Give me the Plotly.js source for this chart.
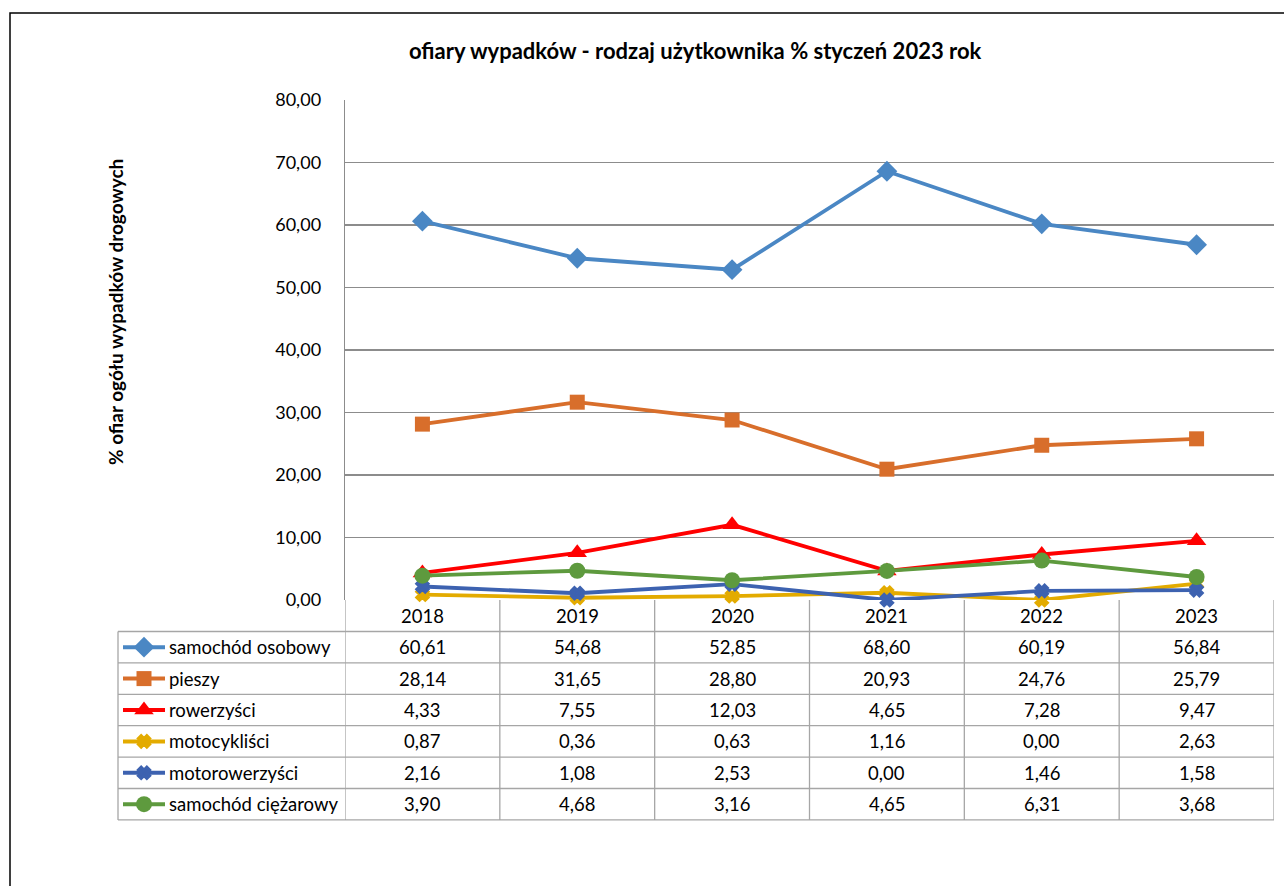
<!DOCTYPE html>
<html>
<head>
<meta charset="utf-8">
<script src="https://cdn.plot.ly/plotly-3.0.1.min.js"></script>
<style>
  html, body { margin: 0; padding: 0; background: #fff; }
  #chart { width: 1284px; height: 886px; }
</style>
</head>
<body>
<div id="chart"></div>
<script>
// ---------- data ----------
const years = ['2018', '2019', '2020', '2021', '2022', '2023'];
const seriesNames = ['samochód osobowy', 'pieszy', 'rowerzyści', 'motocykliści', 'motorowerzyści', 'samochód ciężarowy'];
const samochodOsobowy = [60.61, 54.68, 52.85, 68.60, 60.19, 56.84];
const pieszy = [28.14, 31.65, 28.80, 20.93, 24.76, 25.79];
const rowerzysci = [4.33, 7.55, 12.03, 4.65, 7.28, 9.47];
const motocyklisci = [0.87, 0.36, 0.63, 1.16, 0.00, 2.63];
const motorowerzysci = [2.16, 1.08, 2.53, 0.00, 1.46, 1.58];
const samochodCiezarowy = [3.90, 4.68, 3.16, 4.65, 6.31, 3.68];
const chartTitle = 'ofiary wypadków - rodzaj użytkownika % styczeń 2023 rok';
const yTitle = '% ofiar ogółu wypadków drogowych';

// ---------- styles ----------
const seriesValues = [samochodOsobowy, pieszy, rowerzysci, motocyklisci, motorowerzysci, samochodCiezarowy];
const colors = ['#4a87c4', '#d86e2b', '#ff0000', '#e3ab00', '#3d62b0', '#5e9a3e'];
const symbols = ['diamond', 'square', 'triangle-up', 'x', 'x', 'circle'];
const msizes = [16, 15, 17, 10, 10, 16];
const mlines = [0, 0, 0, 3, 3, 0];

const W = 1284, H = 886;
const plotLeft = 345, plotRight = 1274, plotTop = 100, plotBottom = 600;
const tableLeft = 118;
const headerBottom = 631.5;
const rowH = 31.4;
const font = 'Lato, "Open Sans", sans-serif';
const gridColor = '#8c8c8c';
const tableColor = '#a6a6a6';

const xIdx = years.map((_, i) => i);
const traces = [];
seriesValues.forEach((vals, k) => {
  traces.push({
    type: 'scatter', mode: 'lines+markers',
    x: xIdx, y: vals, name: seriesNames[k],
    xaxis: 'x', yaxis: 'y',
    line: { color: colors[k], width: 3.8 },
    marker: { symbol: symbols[k], size: msizes[k], color: colors[k],
      line: { color: colors[k], width: mlines[k] } },
    cliponaxis: false, showlegend: false
  });
});

// legend keys in table (pixel overlay axes)
const shapes = [];
const annotations = [];
const txtFont = { family: font, size: 18.5, color: '#000' };
seriesNames.forEach((nm, k) => {
  const yc = headerBottom + rowH * (k + 0.5);
  traces.push({
    type: 'scatter', mode: 'lines',
    x: [123, 165], y: [yc, yc],
    xaxis: 'x2', yaxis: 'y2',
    line: { color: colors[k], width: 4 },
    showlegend: false
  });
  traces.push({
    type: 'scatter', mode: 'markers',
    x: [144], y: [yc],
    xaxis: 'x2', yaxis: 'y2',
    marker: { symbol: symbols[k], size: msizes[k], color: colors[k],
      line: { color: colors[k], width: mlines[k] } },
    showlegend: false
  });
  annotations.push({
    xref: 'x2', yref: 'y2', x: 167, y: yc, text: nm, showarrow: false,
    xanchor: 'left', yanchor: 'middle', font: txtFont
  });
  seriesValues[k].forEach((v, i) => {
    annotations.push({
      xref: 'x', yref: 'y2', x: i, y: yc, text: v.toFixed(2).replace('.', ','), showarrow: false,
      xanchor: 'center', yanchor: 'middle', font: txtFont
    });
  });
});
years.forEach((yr, i) => {
  annotations.push({
    xref: 'x', yref: 'y2', x: i, y: (plotBottom + headerBottom) / 2, text: yr, showarrow: false,
    xanchor: 'center', yanchor: 'middle', font: txtFont
  });
});

// table lines
const tableBottom = headerBottom + rowH * seriesNames.length;
for (let r = 0; r <= seriesNames.length; r++) {
  const yy = headerBottom + rowH * r;
  shapes.push({ type: 'line', xref: 'x2', yref: 'y2', x0: tableLeft, x1: plotRight, y0: yy, y1: yy,
    line: { color: tableColor, width: 1.3 } });
}
shapes.push({ type: 'line', xref: 'x2', yref: 'y2', x0: tableLeft, x1: tableLeft, y0: headerBottom, y1: tableBottom,
  line: { color: tableColor, width: 1.3 } });
for (let i = 0; i <= years.length; i++) {
  shapes.push({ type: 'line', xref: 'x', yref: 'y2', x0: i - 0.5, x1: i - 0.5, y0: plotBottom, y1: tableBottom,
    line: { color: tableColor, width: 1.3 } });
}
// outer chart border
shapes.push({ type: 'rect', xref: 'x2', yref: 'y2', x0: 10, x1: 1300, y0: 13, y1: 900,
  line: { color: '#000', width: 1.5 }, fillcolor: 'rgba(0,0,0,0)' });

annotations.push({
  xref: 'x2', yref: 'y2', x: 695, y: 50, text: '<b>' + chartTitle + '</b>', showarrow: false,
  xanchor: 'center', yanchor: 'middle', font: { family: font, size: 22, color: '#000' }
});
annotations.push({
  xref: 'x2', yref: 'y2', x: 115, y: 312, text: '<b>' + yTitle + '</b>', showarrow: false, textangle: -90,
  xanchor: 'center', yanchor: 'middle', font: { family: font, size: 19, color: '#000' }
});

const layout = {
  width: W, height: H,
  margin: { l: 0, r: 0, t: 0, b: 0, pad: 0 },
  paper_bgcolor: '#fff', plot_bgcolor: 'rgba(0,0,0,0)',
  separators: ', ',
  showlegend: false,
  xaxis: {
    domain: [plotLeft / W, plotRight / W], range: [-0.5, years.length - 0.5],
    showgrid: false, zeroline: false, showticklabels: false, showline: false, fixedrange: true
  },
  yaxis: {
    domain: [(H - plotBottom) / H, (H - plotTop) / H], range: [0, 80], dtick: 10, tick0: 0,
    tickformat: '.2f', showgrid: true, gridcolor: gridColor, gridwidth: 1.3,
    zeroline: false, showline: true, linecolor: gridColor, linewidth: 1.3,
    ticks: '', ticklabelstandoff: 19,
    tickfont: { family: font, size: 18, color: '#000' }, fixedrange: true
  },
  xaxis2: { domain: [0, 1], range: [0, W], visible: false, fixedrange: true, anchor: 'y2' },
  yaxis2: { domain: [0, 1], range: [H, 0], visible: false, fixedrange: true, anchor: 'x2' },
  shapes: shapes,
  annotations: annotations
};

Plotly.newPlot('chart', traces, layout, { staticPlot: true, displayModeBar: false });
</script>
</body>
</html>
